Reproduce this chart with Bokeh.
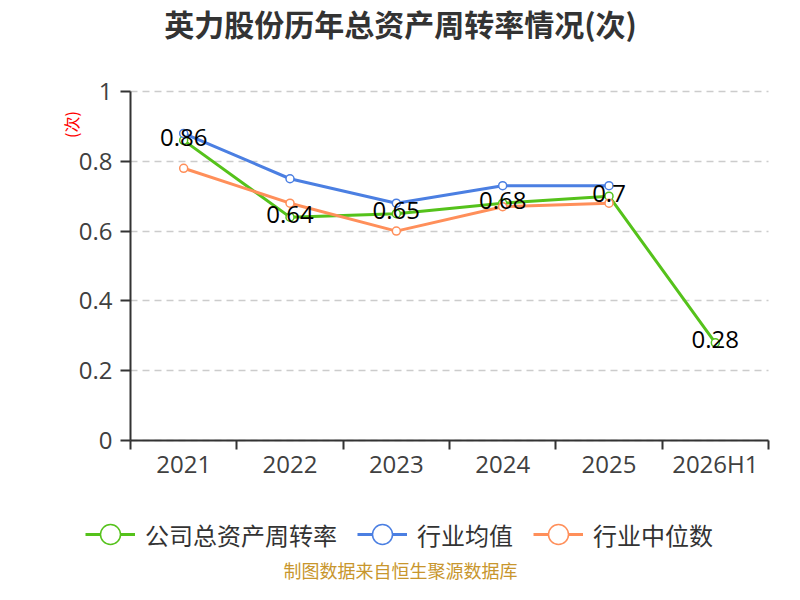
import math
from bokeh.plotting import figure
from bokeh.models import (Range1d, FixedTicker, NumeralTickFormatter, Label,
                          Legend, LegendItem)
from bokeh.embed import file_html
from bokeh.resources import INLINE
from bokeh.core.properties import value

# ---- data ----
categories = ["2021", "2022", "2023", "2024", "2025", "2026H1"]
company = [0.86, 0.64, 0.65, 0.68, 0.70, 0.28]
company_labels = ["0.86", "0.64", "0.65", "0.68", "0.7", "0.28"]
industry_avg = [0.88, 0.75, 0.68, 0.73, 0.73]
industry_median = [0.78, 0.68, 0.60, 0.67, 0.68]
y_ticks = [0, 0.2, 0.4, 0.6, 0.8, 1.0]
series_names = ["公司总资产周转率", "行业均值", "行业中位数"]
title_text = "英力股份历年总资产周转率情况(次)"
unit_text = "(次)"
source_text = "制图数据来自恒生聚源数据库"

GREEN = "#55c21b"
BLUE = "#4b7fe2"
ORANGE = "#ff8f5a"
CJK = "Noto Sans CJK SC"
NUM = "Open Sans"

# ---- layout (pixels) ----
W, H = 784, 584
PLOT_L, PLOT_R, PLOT_T, PLOT_B = 130, 768, 91, 440
n = len(categories)
y_lo, y_hi = 0.0, 1.0
xpx = (PLOT_R - PLOT_L) / n
ypx = (PLOT_B - PLOT_T) / (y_hi - y_lo)
x_range = Range1d(-PLOT_L / xpx, n + (W - PLOT_R) / xpx)
y_range = Range1d(y_lo - (H - PLOT_B) / ypx, y_hi + PLOT_T / ypx)

xs = [i + 0.5 for i in range(n)]

p = figure(width=W, height=H, output_backend="svg", toolbar_location=None, title=None,
           x_range=x_range, y_range=y_range, min_border=0)
p.outline_line_color = None
p.background_fill_color = "white"
p.border_fill_color = "white"

# x axis: labels at centers, ticks at category boundaries
xa = p.xaxis[0]
xa.fixed_location = y_lo
xa.bounds = (0, n)
xa.ticker = FixedTicker(ticks=xs, minor_ticks=list(range(n + 1)))
xa.major_label_overrides = {x: c for x, c in zip(xs, categories)}
xa.major_tick_out = 0
xa.major_tick_in = 0
xa.minor_tick_out = 9
xa.minor_tick_in = 0
xa.minor_tick_line_color = "#333333"
xa.minor_tick_line_width = 2
xa.axis_line_color = "#333333"
xa.axis_line_width = 2
xa.major_label_text_font = NUM
xa.major_label_text_font_size = "24px"
xa.major_label_text_color = "#404040"
xa.major_label_standoff = -3

ya = p.yaxis[0]
ya.fixed_location = 0
ya.bounds = (y_lo, y_hi)
ya.ticker = FixedTicker(ticks=y_ticks)
ya.formatter = NumeralTickFormatter(format="0.[0]")
ya.major_tick_out = 10
ya.major_tick_in = 0
ya.minor_tick_out = 0
ya.minor_tick_in = 0
ya.major_tick_line_color = "#333333"
ya.major_tick_line_width = 2
ya.axis_line_color = "#333333"
ya.axis_line_width = 2
ya.major_label_text_font = NUM
ya.major_label_text_font_size = "24px"
ya.major_label_text_color = "#404040"
ya.major_label_standoff = 8

p.xgrid.visible = False
yg = p.ygrid[0]
yg.bounds = (y_lo, y_hi)
yg.grid_line_color = "#cccccc"
yg.grid_line_dash = "7 5"
yg.grid_line_width = 1.5
try:
    yg.cross_bounds = (0, n)
except Exception:
    yg.visible = False
    p.segment(x0=[0] * len(y_ticks[1:]), x1=[n] * len(y_ticks[1:]), y0=y_ticks[1:],
              y1=y_ticks[1:], line_color="#cccccc", line_dash="7 5", line_width=1.5,
              level="underlay")

# series
g_line = p.line(xs, company, line_color=GREEN, line_width=3)
g_pts = p.scatter(xs, company, size=8, fill_color="white", line_color=GREEN, line_width=1.5)
b_line = p.line(xs[:len(industry_avg)], industry_avg, line_color=BLUE, line_width=3)
b_pts = p.scatter(xs[:len(industry_avg)], industry_avg, size=8, fill_color="white",
                  line_color=BLUE, line_width=1.5)
o_line = p.line(xs[:len(industry_median)], industry_median, line_color=ORANGE, line_width=3)
o_pts = p.scatter(xs[:len(industry_median)], industry_median, size=8, fill_color="white",
                  line_color=ORANGE, line_width=1.5)

p.text(xs, company, text=company_labels, text_align="center", text_baseline="middle",
       text_font=value(NUM), text_font_size="24px", text_color="black", y_offset=-3)

# texts placed in screen pixels (from bottom-left of the canvas)
p.add_layout(Label(x=400, y=H - 22, x_units="screen", y_units="screen", text=title_text,
                   text_align="center", text_baseline="middle", text_font=CJK,
                   text_font_style="bold", text_font_size="30px", text_color="#333333"))
p.add_layout(Label(x=70, y=H - 124, x_units="screen", y_units="screen", text=unit_text,
                   angle=math.pi / 2, text_align="center", text_baseline="middle",
                   text_font=CJK, text_font_size="16px", text_color="#ff0000"))
p.add_layout(Label(x=400, y=15, x_units="screen", y_units="screen", text=source_text,
                   text_align="center", text_baseline="middle", text_font=CJK,
                   text_font_size="18px", text_color="#c8962d"))

legend = Legend(items=[LegendItem(label=series_names[0], renderers=[g_line, g_pts]),
                       LegendItem(label=series_names[1], renderers=[b_line, b_pts]),
                       LegendItem(label=series_names[2], renderers=[o_line, o_pts])],
                orientation="horizontal", location=(85, 25),
                glyph_width=50, glyph_height=50, label_standoff=10, spacing=20,
                padding=0, margin=0, border_line_color=None, background_fill_alpha=0,
                label_text_font=CJK, label_text_font_size="24px", label_text_color="#333333")
p.add_layout(legend, "center")

open("out.html", "w").write(file_html(p, INLINE))
